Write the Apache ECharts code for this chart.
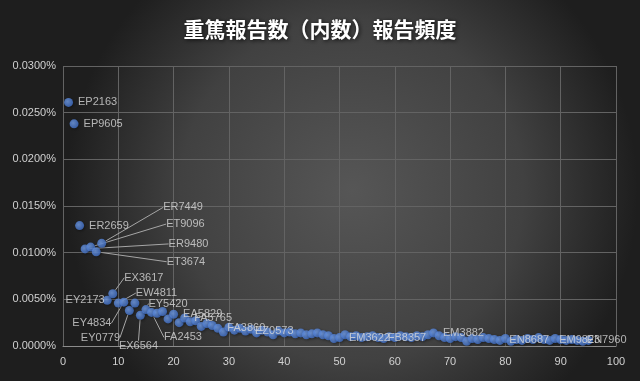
<!DOCTYPE html>
<html><head><meta charset="utf-8">
<script src="https://cdn.jsdelivr.net/npm/echarts@6/dist/echarts.min.js"></script>
<style>html,body{margin:0;padding:0;background:#333;}#c{width:640px;height:381px;}</style>
</head><body><div id="c"></div>
<script>
const chartTitle = '重篤報告数（内数）報告頻度';
const ranks = [1,2,3,4,5,6,7,8,9,10,11,12,13,14,15,16,17,18,19,20,21,22,23,24,25,26,27,28,29,30,31,32,33,34,35,36,37,38,39,40,41,42,43,44,45,46,47,48,49,50,51,52,53,54,55,56,57,58,59,60,61,62,63,64,65,66,67,68,69,70,71,72,73,74,75,76,77,78,79,80,81,82,83,84,85,86,87,88,89,90,91,92,93,94,95];
const freqPct = [0.0261,0.0238,0.0129,0.0104,0.0106,0.0101,0.0110,0.0049,0.0056,0.0046,0.0047,0.0038,0.0046,0.0033,0.0039,0.0036,0.0035,0.0037,0.0029,0.0034,0.0025,0.0030,0.0026,0.0027,0.0021,0.0024,0.0022,0.0019,0.0015,0.0020,0.0017,0.0019,0.0016,0.0018,0.0014,0.0017,0.0015,0.0012,0.0016,0.0014,0.0015,0.0013,0.0014,0.0012,0.0013,0.0014,0.0012,0.0011,0.0008,0.0009,0.0012,0.0010,0.0011,0.0009,0.0010,0.0011,0.0009,0.0008,0.0010,0.0009,0.0011,0.0010,0.0009,0.0011,0.0010,0.0012,0.0014,0.0011,0.0009,0.0008,0.0010,0.0009,0.0005,0.0008,0.0007,0.0009,0.0008,0.0007,0.0006,0.0008,0.0005,0.0007,0.0006,0.0008,0.0007,0.0009,0.0007,0.0006,0.0008,0.0007,0.0006,0.0007,0.0006,0.0005,0.0006];
const pointNames = ['EP2163','EP9605','ER2659','ER9480','ET9096','ET3674','ER7449','EY2173','EX3617','EW4811','EY4834','EY0779','','EX6564','EY5420','FA2453','','','','EA5829','','FA5765','','','','','','FA3860','','','','','EZ0573','','','','','','','','','','','','','','','','','EM3622','','','','','','','FB8357','','','','','','','','','','EM3882','','','','','','','','','','','','EN8687','','','','','','','','','EM9823','','','','','EN7960'];
const xTicks = {min:0, max:100, interval:10};
const yTicks = {min:0, max:0.03, interval:0.005};

// label callout offsets (dx, dy) relative to default right position
const callouts = {
  'ER7449':[52,-36],'ET9096':[66,-23],'ER9480':[74,-5],'ET3674':[61,10],
  'EX3617':[2,-16],'EW4811':[8,-10],'EY4834':[-61,21],'EY0779':[-58,27],
  'EX6564':[-31,31],'EY5420':[-7,-6],'FA2453':[3,25]
};

const data = ranks.map((r,i)=>{
  const nm = pointNames[i];
  const item = {value:[r,freqPct[i]], name:nm};
  if (nm && callouts[nm]) item.labelLine = {show:true};
  if (nm === 'EY2173') item.label = {position:'left', distance:-2};
  return item;
});

const chart = echarts.init(document.getElementById('c'));
chart.setOption({
  animation:false,
  backgroundColor:{type:'radial',x:0.55,y:0.5,r:0.75,colorStops:[
    {offset:0,color:'#565656'},{offset:0.6,color:'#414141'},{offset:1,color:'#1e1e1e'}]},
  title:{text:chartTitle,left:'center',top:14,textStyle:{color:'#ffffff',fontSize:21,fontWeight:'bold',
    fontFamily:'Noto Sans CJK JP',textShadowColor:'rgba(0,0,0,0.8)',textShadowBlur:4,textShadowOffsetX:1,textShadowOffsetY:1}},
  grid:{left:63,right:24,top:66,bottom:35},
  xAxis:{type:'value',min:xTicks.min,max:xTicks.max,interval:xTicks.interval,
    axisLine:{show:true,onZero:false,lineStyle:{color:'#8c8c8c'}},axisTick:{show:false},
    splitLine:{show:true,lineStyle:{color:'#636363',width:1}},
    axisLabel:{color:'#d0d0d0',fontSize:11,fontFamily:'Liberation Sans',margin:10}},
  yAxis:{type:'value',min:yTicks.min,max:yTicks.max,interval:yTicks.interval,
    axisLine:{show:false},axisTick:{show:false},
    splitLine:{show:true,lineStyle:{color:'#636363',width:1}},
    axisLabel:{color:'#d0d0d0',fontSize:11,fontFamily:'Liberation Sans',margin:7,
      formatter:v=>v.toFixed(4)+'%'}},
  series:[{
    type:'scatter',data:data,symbolSize:9,
    itemStyle:{color:{type:'radial',x:0.4,y:0.4,r:0.6,colorStops:[{offset:0,color:'#76a2ec'},{offset:1,color:'#4170c8'}]},
      shadowColor:'rgba(0,0,0,0.5)',shadowBlur:3,shadowOffsetX:1,shadowOffsetY:1},
    label:{show:true,position:'right',distance:5,color:'#d9d9d9',fontSize:11,fontFamily:'Liberation Sans',
      formatter:p=>p.name||''},
    labelLine:{show:false,lineStyle:{color:'#a6a6a6',width:1}},
    labelLayout:function(p){
      const nm = pointNames[p.dataIndex];
      const off = callouts[nm];
      if (off) return {dx:off[0],dy:off[1]};
      return {};
    }
  }]
});
</script></body></html>
